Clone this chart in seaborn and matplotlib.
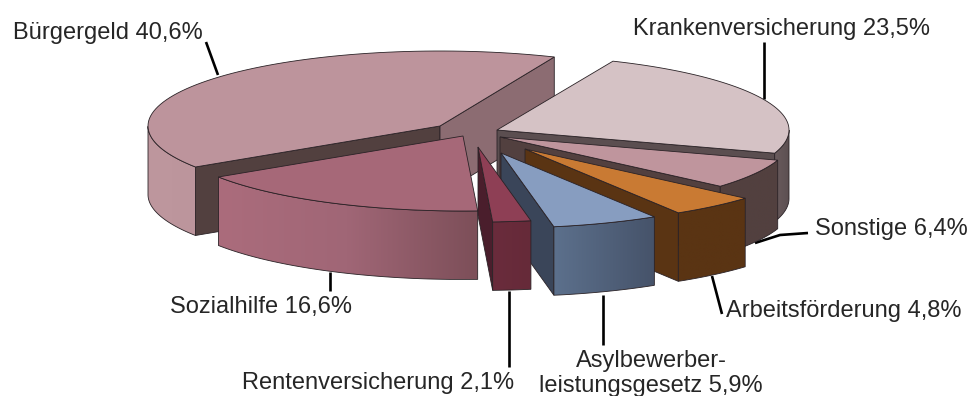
import numpy as np
import matplotlib
matplotlib.use("Agg")
import matplotlib.pyplot as plt
from matplotlib.patches import Polygon
import seaborn as sns

# ---- data -----
categories = ["Krankenversicherung", "Sonstige", "Arbeitsförderung", "Asylbewerberleistungsgesetz",
              "Rentenversicherung", "Sozialhilfe", "Bürgergeld"]
shares = [23.5, 6.4, 4.8, 5.9, 2.1, 16.6, 40.6]
label_texts = ["Krankenversicherung 23,5%", "Sonstige 6,4%", "Arbeitsförderung 4,8%",
               "Asylbewerber-\nleistungsgesetz 5,9%", "Rentenversicherung 2,1%",
               "Sozialhilfe 16,6%", "Bürgergeld 40,6%"]

# ---- pie geometry / styles -----
W, H = 972, 396
CENTER = (478, 133)
RX, RY, DEPTH = 292, 75, 68.5
START = 66.6
explode_dx = [19, 22, 47, 23, 0, -15, -38]
explode_dy = [-3, 4, 16, 20, 14, 3, -7]
top_col = ["#D5C2C5", "#BF959D", "#C97A33", "#879DC0", "#8E3F55", "#A66878", "#BD949C"]
wall_cols = [("#6A5C5E", "#5B4E50"), ("#52403F", "#52403F"), ("#5A3413", "#5A3413"),
             ("#5C708C", "#46536A"), ("#6A2C3C", "#662A39"),
             ("#AB6C7C", "#A06676", "#7D4F59"), ("#BE979E", "#BC959C")]
start_face = ["#6A5C5E", "#52403F", "#5A3413", "#3A4559", "#4A1E2C", "#8A5A66", "#52403F"]
end_face = ["#5B4E50", "#52403F", "#5A3413", "#3A4559", "#4A1E2C", "#8A5A66", "#8C6C72"]
draw_order = [6, 0, 1, 2, 3, 5, 4]
EDGE = "#2A2226"

sns.set_theme(style="white")
plt.rcParams["font.family"] = ["Liberation Sans", "DejaVu Sans"]

fig = plt.figure(figsize=(W / 100, H / 100), dpi=100)
ax = fig.add_axes([0, 0, 1, 1])
ax.set_xlim(0, W)
ax.set_ylim(H, 0)
ax.axis("off")

# wedge angle limits, clockwise from START
edges = START - np.concatenate([[0], np.cumsum(shares)]) * 3.6


def arc(cx, cy, a, b, n=80, dz=0.0):
    t = np.radians(np.linspace(a, b, n))
    return np.column_stack([cx + RX * np.cos(t), cy - RY * np.sin(t) + dz])


def draw_wedge(i, z):
    a, b = edges[i], edges[i + 1]
    cx, cy = CENTER[0] + explode_dx[i], CENTER[1] + explode_dy[i]
    apex = np.array([cx, cy])
    down = np.array([0, DEPTH])
    for ang, col, vis in ((a, start_face[i], np.cos(np.radians(a)) < 0),
                          (b, end_face[i], np.cos(np.radians(b)) > 0)):
        if vis:
            p = arc(cx, cy, ang, ang, 1)[0]
            ax.add_patch(Polygon([apex, p, p + down, apex + down], closed=True, fc=col,
                                 ec=EDGE, lw=0.6, zorder=z))
    # outer wall: front part of the rim only, with a horizontal gradient
    angs = np.linspace(a, b, 241)
    angs = angs[np.sin(np.radians(angs)) <= 0]
    if len(angs) > 1:
        o = arc(cx, cy, angs[0], angs[-1])
        wall = Polygon(np.vstack([o, (o + down)[::-1]]), closed=True, fc="none",
                       ec=EDGE, lw=0.6, zorder=z + 0.2)
        ax.add_patch(wall)
        grad = np.array(sns.blend_palette(list(wall_cols[i]), 64))[None, :, :3]
        x0, x1 = o[:, 0].min(), o[:, 0].max()
        y0, y1 = o[:, 1].min(), o[:, 1].max() + DEPTH
        im = ax.imshow(grad, extent=(x0, x1, y1, y0), aspect="auto", zorder=z + 0.1,
                       interpolation="bilinear")
        clip = Polygon(np.vstack([o, (o + down)[::-1]]), closed=True,
                       transform=ax.transData)
        im.set_clip_path(clip)
    # top face
    rim = arc(cx, cy, a, b)
    ax.add_patch(Polygon(np.vstack([apex, rim]), closed=True, fc=top_col[i], ec=EDGE,
                         lw=0.6, joinstyle="miter", zorder=z + 0.3))


for z, i in enumerate(draw_order, start=2):
    draw_wedge(i, z)
ax.set_xlim(0, W)
ax.set_ylim(H, 0)

# ---- labels and leader lines -----
label_pos = [(781, 28.5), (891.5, 228.5), (844, 310.5), (651, 373.5), (378, 383.5), (260.5, 307.5), (108, 33.5)]
leaders = [[(764, 42), (764, 99)],
           [(755, 243), (780, 235), (808, 233)],
           [(712, 276), (722, 314)],
           [(603, 295), (603, 345)],
           [(509, 291), (509, 367)],
           [(330, 272), (330, 291)],
           [(206, 42), (218, 75)]]
for name, txt, pos, ln in zip(categories, label_texts, label_pos, leaders):
    ax.text(pos[0], pos[1], txt, ha="center", va="center", fontsize=17, color="#262626",
            linespacing=1.12, zorder=20)
    xs, ys = zip(*ln)
    ax.plot(xs, ys, color="black", lw=1.9, solid_capstyle="butt", zorder=1)

fig.savefig("out.png", dpi=100, facecolor="white")
